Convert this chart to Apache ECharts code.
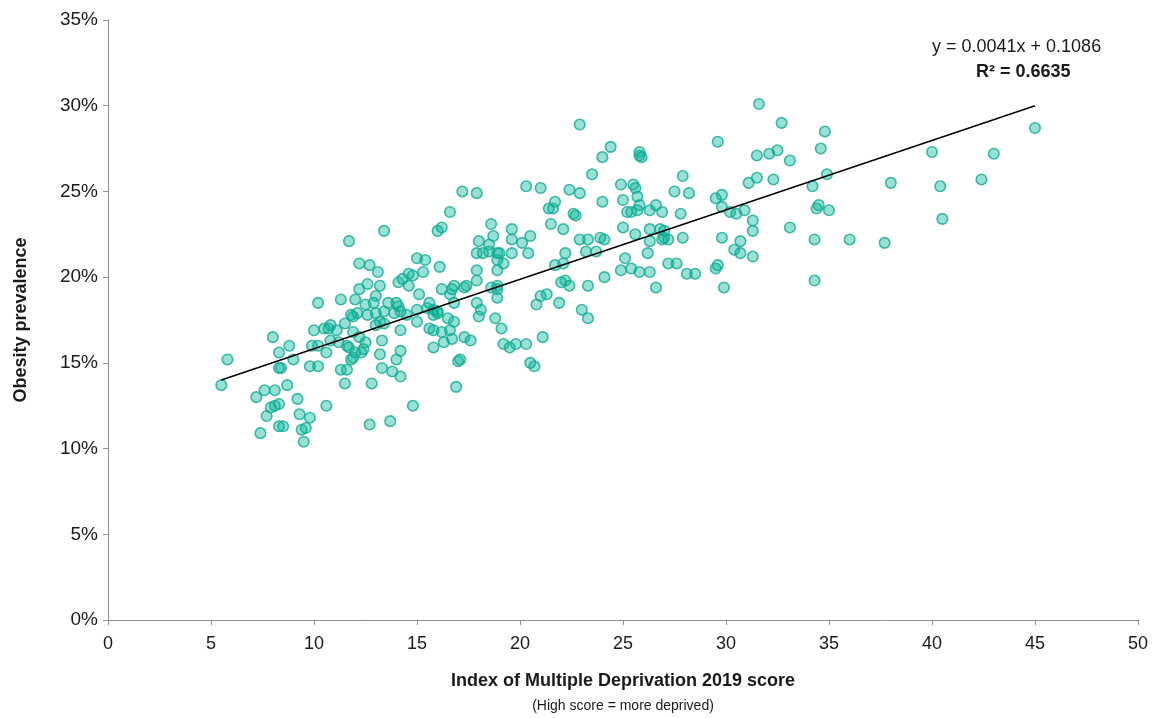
<!DOCTYPE html>
<html>
<head>
<meta charset="utf-8">
<title>Obesity vs IMD</title>
<script src="https://cdn.jsdelivr.net/npm/echarts@6/dist/echarts.min.js"></script>
<style>
  html, body { margin: 0; padding: 0; background: #fff; }
  #main { width: 1158px; height: 718px; }
</style>
</head>
<body>
<div id="main"></div>
<script>
// IMD 2019 score (x) and obesity prevalence (y)
var imdScore = [
  5.8, 5.5, 8.0, 8.3, 8.8, 8.3, 8.4, 9.0, 10.2, 11.3, 7.6, 8.1, 7.2, 8.7, 7.9, 8.1, 8.3, 7.7, 9.2, 9.3,
  9.8, 10.6, 8.3, 8.5, 7.4, 9.4, 9.6, 9.5, 12.8, 11.5, 13.7, 12.7, 9.8, 10.2, 11.3, 11.6, 10.6, 9.9, 10.2, 10.0,
  10.5, 10.8, 10.7, 11.1, 10.8, 11.2, 11.6, 11.7, 11.5, 11.9, 12.2, 12.5, 12.0, 12.3, 12.4, 11.8, 11.9, 11.8, 11.9, 12.1,
  12.0, 12.2, 12.6, 12.5, 12.9, 13.0, 13.2, 12.6, 13.0, 13.4, 13.6, 14.0, 14.1, 13.1, 13.0, 13.2, 13.4, 14.2, 13.3, 13.2,
  13.3, 13.8, 14.2, 14.0, 14.2, 14.1, 14.3, 14.6, 13.9, 14.2, 11.7, 13.4, 16.0, 16.2, 12.2, 12.7, 15.0, 15.4, 16.1, 15.3,
  14.8, 14.6, 16.6, 15.1, 16.2, 16.6, 16.8, 16.7, 17.3, 17.4, 16.8, 15.6, 15.5, 15.8, 16.0, 15.8, 16.0, 15.0, 15.0, 14.5,
  15.6, 15.8, 16.2, 16.3, 16.7, 16.6, 16.5, 16.8, 15.8, 17.3, 17.6, 17.0, 17.1, 16.9, 17.9, 17.9, 18.0, 17.9, 18.2, 18.5,
  18.7, 18.6, 18.5, 18.9, 19.0, 18.9, 19.2, 19.6, 19.6, 19.6, 20.1, 20.4, 20.5, 18.9, 18.6, 18.9, 18.9, 18.9, 17.9, 18.1,
  18.0, 18.8, 19.1, 19.2, 19.5, 19.8, 20.3, 21.1, 20.5, 20.7, 20.8, 21.0, 21.3, 21.9, 22.0, 22.2, 22.4, 21.7, 22.1, 22.2,
  21.5, 21.4, 21.6, 21.7, 22.1, 22.6, 22.7, 22.9, 23.3, 23.2, 23.7, 23.9, 24.1, 23.3, 23.0, 23.3, 24.1, 24.0, 24.0, 24.4,
  25.8, 25.9, 25.8, 31.5, 32.1, 32.5, 33.1, 27.9, 24.9, 25.5, 25.6, 27.5, 28.2, 31.1, 31.5, 32.3, 25.0, 25.7, 29.5, 29.8,
  25.8, 25.7, 25.2, 25.4, 26.3, 26.6, 26.9, 27.8, 29.8, 30.2, 30.5, 30.9, 31.3, 31.3, 25.0, 25.6, 26.3, 26.8, 27.0, 27.0,
  26.9, 27.2, 26.3, 27.9, 29.8, 30.7, 30.4, 30.7, 31.3, 33.1, 26.2, 25.1, 25.4, 25.8, 24.9, 26.3, 27.2, 27.6, 26.6, 28.1,
  28.5, 29.5, 29.6, 29.9, 31.6, 32.7, 22.9, 29.6, 23.5, 21.0, 22.4, 22.9, 17.2, 17.9, 20.3, 14.8, 34.8, 34.6, 34.9, 34.2,
  34.5, 34.4, 35.0, 34.3, 36.0, 37.7, 34.3, 38.0, 40.0, 40.4, 40.5, 42.4, 43.0, 45.0
];
var obesity = [
  0.152, 0.137, 0.165, 0.156, 0.160, 0.147, 0.147, 0.152, 0.185, 0.187, 0.134, 0.134, 0.130, 0.137, 0.124, 0.125, 0.126, 0.119, 0.129, 0.120,
  0.118, 0.125, 0.113, 0.113, 0.109, 0.111, 0.112, 0.104, 0.138, 0.138, 0.116, 0.114, 0.148, 0.148, 0.146, 0.146, 0.156, 0.160, 0.160, 0.169,
  0.170, 0.172, 0.170, 0.169, 0.163, 0.162, 0.160, 0.159, 0.173, 0.168, 0.165, 0.162, 0.156, 0.156, 0.158, 0.152, 0.153, 0.178, 0.177, 0.179,
  0.187, 0.193, 0.196, 0.184, 0.185, 0.189, 0.195, 0.178, 0.179, 0.180, 0.185, 0.185, 0.183, 0.203, 0.172, 0.174, 0.173, 0.169, 0.163, 0.155,
  0.147, 0.145, 0.142, 0.152, 0.157, 0.197, 0.199, 0.195, 0.179, 0.180, 0.221, 0.227, 0.227, 0.229, 0.208, 0.207, 0.211, 0.210, 0.206, 0.203,
  0.201, 0.202, 0.238, 0.190, 0.193, 0.190, 0.195, 0.193, 0.194, 0.195, 0.185, 0.185, 0.182, 0.181, 0.179, 0.178, 0.180, 0.181, 0.174, 0.178,
  0.170, 0.169, 0.168, 0.162, 0.164, 0.169, 0.176, 0.174, 0.159, 0.165, 0.163, 0.151, 0.152, 0.136, 0.204, 0.198, 0.221, 0.214, 0.214, 0.219,
  0.224, 0.231, 0.215, 0.214, 0.214, 0.210, 0.208, 0.214, 0.228, 0.222, 0.220, 0.214, 0.224, 0.204, 0.194, 0.193, 0.188, 0.195, 0.185, 0.181,
  0.177, 0.176, 0.170, 0.161, 0.159, 0.161, 0.161, 0.165, 0.150, 0.148, 0.184, 0.189, 0.190, 0.185, 0.197, 0.198, 0.195, 0.207, 0.208, 0.214,
  0.231, 0.240, 0.240, 0.244, 0.228, 0.237, 0.236, 0.222, 0.222, 0.215, 0.215, 0.223, 0.222, 0.195, 0.181, 0.176, 0.200, 0.244, 0.270, 0.276,
  0.271, 0.270, 0.273, 0.271, 0.272, 0.274, 0.268, 0.259, 0.254, 0.254, 0.252, 0.250, 0.249, 0.255, 0.258, 0.257, 0.245, 0.247, 0.246, 0.248,
  0.242, 0.239, 0.238, 0.238, 0.239, 0.242, 0.238, 0.237, 0.241, 0.238, 0.237, 0.239, 0.233, 0.227, 0.229, 0.225, 0.228, 0.228, 0.227, 0.223,
  0.222, 0.222, 0.221, 0.223, 0.223, 0.221, 0.216, 0.214, 0.212, 0.229, 0.214, 0.211, 0.205, 0.203, 0.204, 0.203, 0.208, 0.208, 0.194, 0.202,
  0.202, 0.205, 0.207, 0.194, 0.301, 0.290, 0.289, 0.279, 0.260, 0.252, 0.251, 0.249, 0.250, 0.249, 0.253, 0.125, 0.285, 0.275, 0.260, 0.253,
  0.242, 0.240, 0.239, 0.222, 0.222, 0.220, 0.198, 0.255, 0.273, 0.253, 0.234, 0.257, 0.272, 0.287
];

// trend line ends as drawn on the picture
var trendX = [5.5, 45.0];
var trendY = [0.140, 0.300];

var equationText = 'y = 0.0041x + 0.1086';
var r2Text = 'R² = 0.6635';

var points = imdScore.map(function (x, i) { return [x, obesity[i]]; });
var trend = trendX.map(function (x, i) { return [x, trendY[i]]; });

var font = "'Liberation Sans', Arial, sans-serif";

var myChart = echarts.init(document.getElementById('main'));

var option = {
    animation: false,
    grid: { left: 108, right: 20, top: 20, bottom: 98 },
    xAxis: {
        type: 'value',
        min: 0,
        max: 50,
        interval: 5,
        name: '{a|Index of Multiple Deprivation 2019 score}\n{b|(High score = more deprived)}',
        nameLocation: 'middle',
        nameGap: 48,
        nameTextStyle: {
            rich: {
                a: { fontFamily: font, fontSize: 18, fontWeight: 'bold', color: '#1a1a1a', lineHeight: 27 },
                b: { fontFamily: font, fontSize: 14, color: '#1a1a1a', lineHeight: 22 }
            }
        },
        axisLine: { lineStyle: { color: '#8c8c8c', width: 1 } },
        axisTick: { show: true, length: 5, lineStyle: { color: '#8c8c8c' } },
        axisLabel: { fontFamily: font, fontSize: 18, color: '#1a1a1a', margin: 15 },
        splitLine: { show: false }
    },
    yAxis: {
        type: 'value',
        min: 0,
        max: 0.35,
        interval: 0.05,
        name: 'Obesity prevalence',
        nameLocation: 'middle',
        nameGap: 78,
        nameTextStyle: { fontFamily: font, fontSize: 18, fontWeight: 'bold', color: '#1a1a1a' },
        axisLine: { show: true, lineStyle: { color: '#8c8c8c', width: 1 } },
        axisTick: { show: true, length: 5, lineStyle: { color: '#8c8c8c' } },
        axisLabel: {
            fontFamily: font, fontSize: 19, color: '#1a1a1a', margin: 10,
            formatter: function (v) { return Math.round(v * 100) + '%'; }
        },
        splitLine: { show: false }
    },
    graphic: [
        {
            type: 'text', left: 932, top: 38,
            style: { text: equationText, fontFamily: font, fontSize: 18, fill: '#1a1a1a' }
        },
        {
            type: 'text', left: 976, top: 63,
            style: { text: r2Text, fontFamily: font, fontSize: 18, fontWeight: 'bold', fill: '#1a1a1a' }
        }
    ],
    series: [
        {
            name: 'LA',
            type: 'scatter',
            data: points,
            symbolSize: 10.5,
            itemStyle: {
                color: 'rgba(0, 180, 155, 0.5)',
                borderColor: '#14a994',
                borderWidth: 1.6
            },
            z: 2
        },
        {
            name: 'Trend',
            type: 'line',
            data: trend,
            symbol: 'none',
            lineStyle: { color: '#000', width: 1.5 },
            z: 3
        }
    ]
};

myChart.setOption(option);
</script>
</body>
</html>
